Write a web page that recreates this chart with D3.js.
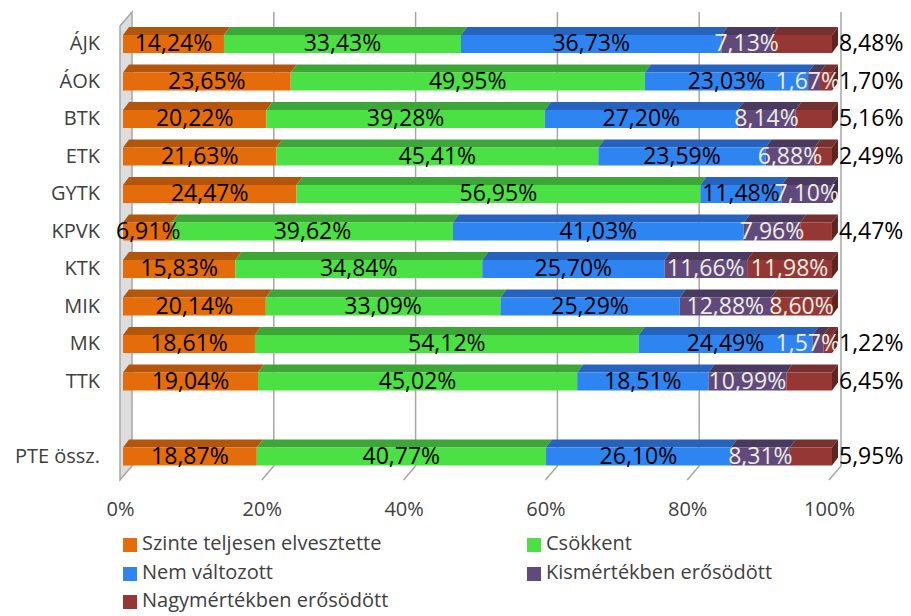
<html>
<head>
<meta charset="utf-8">
<script src="https://d3js.org/d3.v7.min.js"></script>
<style>
  body { margin: 0; background: #fff; }
  svg { font-family: "Open Sans", sans-serif; }
</style>
</head>
<body>
<svg id="chart" width="911" height="616"></svg>
<script>
// data
const categories = ["ÁJK", "ÁOK", "BTK", "ETK", "GYTK", "KPVK", "KTK", "MIK", "MK", "TTK", " ", "PTE össz."];
const szinte = [14.24, 23.65, 20.22, 21.63, 24.47, 6.91, 15.83, 20.14, 18.61, 19.04, null, 18.87];
const csokkent = [33.43, 49.95, 39.28, 45.41, 56.95, 39.62, 34.84, 33.09, 54.12, 45.02, null, 40.77];
const nemValt = [36.73, 23.03, 27.20, 23.59, 11.48, 41.03, 25.70, 25.29, 24.49, 18.51, null, 26.10];
const kisErős = [7.13, 1.67, 8.14, 6.88, 7.10, 7.96, 11.66, 12.88, 1.57, 10.99, null, 8.31];
const nagyErős = [8.48, 1.70, 5.16, 2.49, 0, 4.47, 11.98, 8.60, 1.22, 6.45, null, 5.95];
const seriesNames = ["Szinte teljesen elvesztette", "Csökkent", "Nem változott", "Kismértékben erősödött", "Nagymértékben erősödött"];
const xTicks = [0, 20, 40, 60, 80, 100];

const seriesVals = [szinte, csokkent, nemValt, kisErős, nagyErős];
const front = ["#E46C0A", "#4BE043", "#2E84F0", "#604A7B", "#953735"];
const top_ = ["#B3550A", "#3CA636", "#2563BE", "#4A3A60", "#76302D"];
const side = ["#8E4308", "#2F832A", "#1D4E96", "#3A2E4C", "#5E2422"];
const labelCol = ["#000", "#000", "#000", "#EEECE1", "#EEECE1"];

const svg = d3.select("#chart");

// 3d box: front plane and back plane
const xf = d3.scaleLinear().domain([0, 100]).range([120, 829]);
const xb = d3.scaleLinear().domain([0, 100]).range([132, 841]);
const xBar = d3.scaleLinear().domain([0, 100]).range([123, 832]);
const y = d3.scalePoint().domain(categories).range([25.25, 475.25]).padding(0.5);
const backTop = 12, backBot = 466, frontTop = 26, frontBot = 480;
const bh = 18, ddx = 6, ddy = -8;

// left wall
svg.append("path")
  .attr("d", `M${xf(0)},${frontTop}L${xb(0)},${backTop}L${xb(0)},${backBot}L${xf(0)},${frontBot}Z`)
  .attr("fill", "#DDDDDD").attr("stroke", "#A6A6A6").attr("stroke-width", 1.5);

// gridlines on the back wall + floor
svg.append("g").selectAll("path").data(xTicks.slice(1)).join("path")
  .attr("d", d => `M${xb(d)},${backTop}L${xb(d)},${backBot}L${xf(d)},${frontBot}`)
  .attr("fill", "none").attr("stroke", "#A6A6A6").attr("stroke-width", 1.5);

// bars
const rows = categories.map((c, i) => {
  let acc = 0;
  const segs = seriesVals.map((s, k) => {
    const v = s[i];
    const seg = { k, v, x0: acc, x1: acc + (v || 0) };
    acc += v || 0;
    return seg;
  });
  return { c, segs };
}).filter(r => r.segs[0].v != null);

const bars = svg.append("g");
rows.forEach(r => {
  const yc = y(r.c);
  const y0 = yc - bh / 2;
  const g = bars.append("g");
  const segs = r.segs.filter(s => s.v > 0);
  segs.forEach(s => {
    const a = xBar(s.x0), b = xBar(Math.min(s.x1, 100));
    g.append("path")
      .attr("d", `M${a},${y0}L${b},${y0}L${b + ddx},${y0 + ddy}L${a + ddx},${y0 + ddy}Z`)
      .attr("fill", top_[s.k]);
    g.append("rect")
      .attr("x", a).attr("y", y0).attr("width", b - a).attr("height", bh)
      .attr("fill", front[s.k]);
  });
  const last = segs[segs.length - 1];
  const e = xBar(Math.min(last.x1, 100));
  g.append("path")
    .attr("d", `M${e},${y0}L${e + ddx},${y0 + ddy}L${e + ddx},${y0 + bh + ddy}L${e},${y0 + bh}Z`)
    .attr("fill", side[last.k]);

  // labels
  r.segs.forEach(s => {
    if (!(s.v > 0)) return;
    const txt = s.v.toFixed(2).replace(".", ",") + "%";
    const outside = s.k === 4 && s.v < 8.55;
    const t = g.append("text")
      .attr("y", yc + 1)
      .attr("dominant-baseline", "middle")
      .style("font-size", "23px")
      .text(txt);
    if (outside) {
      t.attr("x", e + ddx + 1).attr("fill", "#000");
    } else {
      t.attr("text-anchor", "middle").attr("fill", labelCol[s.k]);
      let cx = (xBar(s.x0) + xBar(s.x1)) / 2;
      const w = t.node().getComputedTextLength();
      if (cx + w / 2 > 840) cx = 840 - w / 2;
      if (cx - w / 2 < 116) cx = 116 + w / 2;
      t.attr("x", cx);
    }
  });
});

// category labels
svg.append("g").selectAll("text").data(categories).join("text")
  .attr("x", 100).attr("y", d => y(d) + 1)
  .attr("text-anchor", "end").attr("dominant-baseline", "middle")
  .attr("fill", "#404040").style("font-size", "20px")
  .text(d => d.trim());

// x axis labels
const axis = svg.append("g").attr("transform", `translate(0,${frontBot + 19})`)
  .call(d3.axisBottom(xf).tickValues(xTicks).tickSize(0).tickFormat(d => d + "%"));
axis.select(".domain").remove();
axis.selectAll("text").attr("fill", "#404040").style("font-size", "20px")
  .style("font-family", "'Open Sans', sans-serif");

// legend
const legendPos = [[123, 545], [527, 545], [123, 574], [527, 574], [123, 602]];
const lg = svg.append("g").selectAll("g").data(seriesNames).join("g")
  .attr("transform", (d, i) => `translate(${legendPos[i][0]},${legendPos[i][1]})`);
lg.append("rect").attr("x", 0).attr("y", -7).attr("width", 14).attr("height", 14)
  .attr("fill", (d, i) => front[i]);
lg.append("text").attr("x", 19).attr("y", 0).attr("dominant-baseline", "middle")
  .attr("fill", "#404040").style("font-size", "20px").text(d => d);
</script>
</body>
</html>
